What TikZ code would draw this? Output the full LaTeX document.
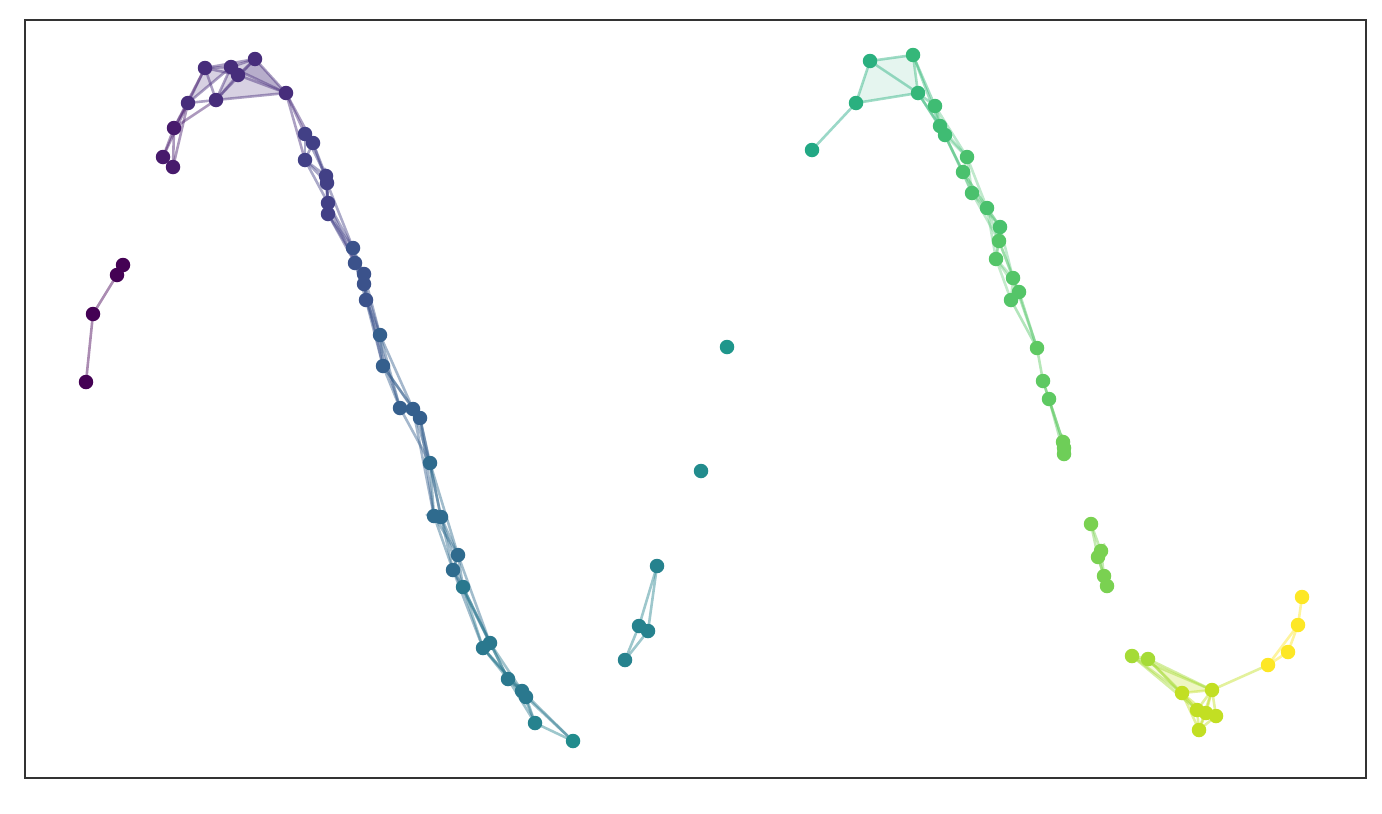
\documentclass[tikz,border=0pt]{standalone}
\usetikzlibrary{calc}
\pgfdeclarelayer{bg}
\pgfsetlayers{bg,main}
\tikzset{
  dot/.style={circle,inner sep=0pt,minimum size=14.5pt,draw=none},
  edge/.style={line width=2.6pt,opacity=0.45,line cap=round},
  face/.style={fill opacity=0.22,draw=none},
  frame/.style={draw=black!80,line width=1.6pt}
}
\newcommand\pt[4]{\colorlet{col#1}{#4}\node[dot,fill=#4] (#1) at (#2,#3) {};}
\begin{document}
\begin{tikzpicture}[x=1pt,y=-1pt]
\useasboundingbox (0,0) rectangle (1382,814);
\node[frame,minimum width=1341pt,minimum height=758pt,inner sep=0pt,anchor=north west] (frame) at (24,19) {};
% colours
\definecolor{v00}{HTML}{440154}
\definecolor{v01}{HTML}{471A6C}
\definecolor{v02}{HTML}{472D7B}
\definecolor{v03}{HTML}{424086}
\definecolor{v04}{HTML}{3B528B}
\definecolor{v05}{HTML}{355F8D}
\definecolor{v06}{HTML}{2F6B8E}
\definecolor{v07}{HTML}{2A788E}
\definecolor{v08}{HTML}{26828E}
\definecolor{v09}{HTML}{228C8D}
\definecolor{v10}{HTML}{1F968B}
\definecolor{v11}{HTML}{1FA088}
\definecolor{v12}{HTML}{22A884}
\definecolor{v13}{HTML}{2AB07F}
\definecolor{v14}{HTML}{35B779}
\definecolor{v15}{HTML}{3FBC73}
\definecolor{v16}{HTML}{4AC16D}
\definecolor{v17}{HTML}{54C568}
\definecolor{v18}{HTML}{5EC962}
\definecolor{v19}{HTML}{6ECE58}
\definecolor{v20}{HTML}{7AD151}
\definecolor{v21}{HTML}{A5DB36}
\definecolor{v22}{HTML}{C2DF23}
\definecolor{v23}{HTML}{FDE725}
% cluster a
\pt{a1}{86}{382}{v00}
\pt{a2}{93}{314}{v00}
\pt{a3}{117}{275}{v00}
\pt{a4}{123}{265}{v00}
% cluster b
\pt{b1}{163}{157}{v01}
\pt{b2}{173}{167}{v01}
\pt{b3}{174}{128}{v01}
\pt{b4}{188}{103}{v02}
\pt{b5}{216}{100}{v02}
\pt{b6}{205}{68}{v02}
\pt{b7}{231}{67}{v02}
\pt{b8}{238}{75}{v02}
\pt{b9}{255}{59}{v02}
\pt{b10}{286}{93}{v02}
\pt{b11}{305}{134}{v03}
\pt{b12}{313}{143}{v03}
\pt{b13}{305}{160}{v03}
\pt{b14}{326}{176}{v03}
\pt{b15}{327}{183}{v03}
\pt{b16}{328}{203}{v03}
\pt{b17}{328}{214}{v03}
\pt{b18}{353}{248}{v04}
\pt{b19}{355}{263}{v04}
\pt{b20}{364}{274}{v04}
\pt{b21}{364}{284}{v04}
\pt{b22}{366}{300}{v04}
\pt{b23}{380}{335}{v05}
\pt{b24}{383}{366}{v05}
\pt{b25}{400}{408}{v05}
\pt{b26}{413}{409}{v05}
\pt{b27}{420}{418}{v05}
\pt{b28}{430}{463}{v06}
\pt{b29}{434}{516}{v06}
\pt{b30}{441}{517}{v06}
\pt{b31}{458}{555}{v06}
\pt{b32}{453}{570}{v06}
\pt{b33}{463}{587}{v07}
\pt{b34}{490}{643}{v07}
\pt{b35}{483}{648}{v07}
\pt{b36}{508}{679}{v07}
\pt{b37}{522}{691}{v07}
\pt{b38}{526}{697}{v07}
\pt{b39}{535}{723}{v08}
\pt{b40}{573}{741}{v09}
% cluster c
\pt{c1}{727}{347}{v10}
\pt{c2}{701}{471}{v09}
\pt{c3}{657}{566}{v08}
\pt{c4}{639}{626}{v08}
\pt{c5}{648}{631}{v08}
\pt{c6}{625}{660}{v08}
% cluster g
\pt{g1}{812}{150}{v12}
\pt{g2}{856}{103}{v13}
\pt{g3}{870}{61}{v13}
\pt{g4}{913}{55}{v14}
\pt{g5}{918}{93}{v14}
\pt{g6}{935}{106}{v15}
\pt{g7}{940}{126}{v15}
\pt{g8}{945}{135}{v15}
\pt{g9}{967}{157}{v16}
\pt{g10}{963}{172}{v16}
\pt{g11}{972}{193}{v16}
\pt{g12}{987}{208}{v16}
\pt{g13}{1000}{227}{v16}
\pt{g14}{999}{241}{v17}
\pt{g15}{996}{259}{v17}
\pt{g16}{1013}{278}{v17}
\pt{g17}{1019}{292}{v17}
\pt{g18}{1011}{300}{v17}
\pt{g19}{1037}{348}{v18}
\pt{g20}{1043}{381}{v18}
\pt{g21}{1049}{399}{v18}
\pt{g22}{1063}{442}{v19}
\pt{g23}{1064}{448}{v19}
\pt{g24}{1064}{454}{v19}
% cluster h
\pt{h1}{1091}{524}{v20}
\pt{h2}{1101}{551}{v20}
\pt{h3}{1098}{557}{v20}
\pt{h4}{1104}{576}{v20}
\pt{h5}{1107}{586}{v20}
% cluster y
\pt{y1}{1132}{656}{v21}
\pt{y2}{1148}{659}{v21}
\pt{y3}{1182}{693}{v22}
\pt{y4}{1212}{690}{v22}
\pt{y5}{1197}{710}{v22}
\pt{y6}{1206}{713}{v22}
\pt{y7}{1216}{716}{v22}
\pt{y8}{1199}{730}{v22}
\pt{y9}{1268}{665}{v23}
\pt{y10}{1288}{652}{v23}
\pt{y11}{1298}{625}{v23}
\pt{y12}{1302}{597}{v23}
\begin{pgfonlayer}{bg}
% faces
\fill[face,fill=v02] (b5.center) -- (b9.center) -- (b10.center) -- cycle;
\fill[face,fill=v02] (b7.center) -- (b9.center) -- (b10.center) -- cycle;
\fill[face,fill=v02] (b4.center) -- (b6.center) -- (b7.center) -- cycle;
\fill[face,fill=v02] (b5.center) -- (b7.center) -- (b8.center) -- cycle;
\fill[face,fill=v13,fill opacity=0.12] (g3.center) -- (g4.center) -- (g5.center) -- cycle;
\fill[face,fill=v13,fill opacity=0.12] (g2.center) -- (g3.center) -- (g5.center) -- cycle;
\fill[face,fill=v22,fill opacity=0.15] (y2.center) -- (y4.center) -- (y3.center) -- cycle;
\fill[face,fill=v22,fill opacity=0.15] (y1.center) -- (y4.center) -- (y3.center) -- cycle;
% explicit edges
\foreach \a/\b in {a1/a2,a2/a3,a3/a4,
  b1/b2,b1/b3,b2/b3,b1/b4,b2/b4,b3/b4,b3/b5,b4/b5,b4/b6,b4/b7,b3/b6,b5/b6,b5/b7,b5/b8,
  b5/b9,b5/b10,b6/b7,b6/b8,b7/b8,b7/b9,b8/b9,b8/b10,b9/b10,b7/b10,b6/b9,
  c3/c4,c3/c5,c4/c5,c4/c6,c5/c6,
  g1/g2,g2/g3,g2/g5,g3/g4,g3/g5,g4/g5,g4/g6,g5/g6,g5/g7,g4/g7,g5/g8,
  g18/g19,g17/g19,g16/g19,g19/g20,g20/g21,g21/g22,g20/g22,g22/g23,g23/g24,g21/g24,
  h1/h2,h1/h3,h2/h3,h3/h4,h2/h4,h4/h5,h3/h5,
  y1/y2,y1/y3,y1/y4,y2/y3,y2/y4,y2/y5,y3/y4,y3/y5,y4/y5,y4/y7,y4/y6,y5/y6,y5/y8,y6/y8,y6/y7,y3/y8,y7/y8,y3/y6,y1/y5,y4/y8,
  y4/y9,y9/y10,y9/y11,y10/y11,y11/y12}
  \draw[edge,draw=col\a] (\a) -- (\b);
% chain edges
\foreach \i in {10,...,39}{
  \foreach \j in {1,2,3}{
    \pgfmathtruncatemacro\k{\i+\j}
    \ifnum\k<41 \draw[edge,draw=colb\i] (b\i) -- (b\k); \fi
  }
}
\foreach \i in {6,...,17}{
  \foreach \j in {1,2,3}{
    \pgfmathtruncatemacro\k{\i+\j}
    \ifnum\k<19 \draw[edge,draw=colg\i,opacity=0.35] (g\i) -- (g\k); \fi
  }
}
\end{pgfonlayer}
\end{tikzpicture}
\end{document}
